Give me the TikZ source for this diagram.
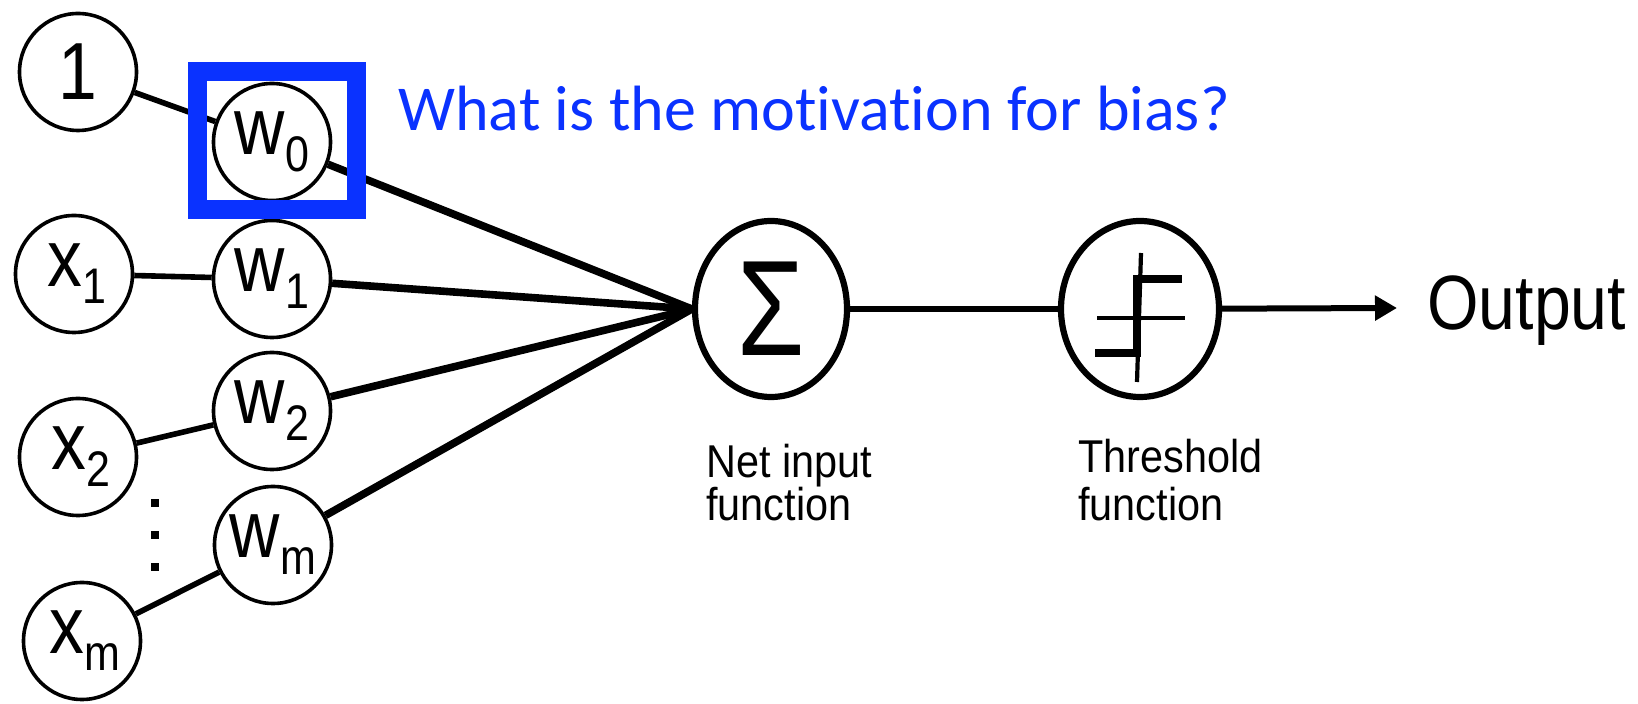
\documentclass[tikz,border=0pt]{standalone}
\usepackage{fontspec}
\setmainfont{Liberation Sans}
\newfontfamily\narrowsans[FakeStretch=0.86]{Liberation Sans}
\newfontfamily\labelsans[FakeStretch=0.9]{Liberation Sans}
\newfontfamily\sigmafont[FakeStretch=0.8]{Liberation Sans}
\newfontfamily\notefont[Ligatures=NoCommon]{Carlito}
\usetikzlibrary{shapes.geometric,arrows.meta}
\definecolor{noteblue}{RGB}{10,50,255}
% lowered subscript set in the surrounding family
\newcommand{\lowsub}[1]{\raisebox{-8.5pt}{\fontsize{25}{25}\selectfont #1}}

\begin{document}
\begin{tikzpicture}[x=0.5pt,y=-0.5pt,
  unit/.style={circle, draw, line width=1.8pt, minimum size=58.5pt, inner sep=0pt,
    font=\narrowsans\fontsize{40.5}{40.5}\selectfont},
  stage/.style={ellipse, draw, line width=3.1pt, inner sep=0pt},
  inedge/.style={line width=2.8pt},
  wedge/.style={line width=3.8pt},
  caption/.style={anchor=north west, inner sep=0pt, align=left},
  dotmark/.style={fill=black}]
\useasboundingbox (0,0) rectangle (1638,704);

% inputs and weights
\node[unit] (one) at (78,72)  {1};
\node[unit] (w0)  at (272,142) {w\lowsub{0}};
\node[unit] (x1)  at (74,274)  {\hspace{3pt}x\lowsub{1}};
\node[unit] (w1)  at (272,279) {w\lowsub{1}};
\node[unit] (x2)  at (78,457)  {\hspace{3pt}x\lowsub{2}};
\node[unit] (w2)  at (272,411) {w\lowsub{2}};
\node[unit] (xm)  at (82,641)  {\hspace{3pt}x\lowsub{m}};
\node[unit] (wm)  at (273,545) {w\lowsub{m}};

% vertical ellipsis between x2 and xm
\fill[dotmark] (151,499) rectangle (159,507);
\fill[dotmark] (151,531) rectangle (159,539);
\fill[dotmark] (151,563) rectangle (159,571);

% net input and threshold stages
\node[stage, minimum width=76pt, minimum height=88pt,
  font=\sigmafont\fontsize{68}{68}\selectfont] (sum) at (771,309) {Σ};
\node[stage, minimum width=79pt, minimum height=88pt] (thr) at (1140,309) {};
\coordinate (tip) at (1397,308);

% connectors
\draw[inedge] (one) -- (w0);
\draw[inedge] (x1) -- (w1);
\draw[inedge] (x2) -- (w2);
\draw[inedge] (xm) -- (wm);
\draw[wedge] (w0) -- (sum.west);
\draw[wedge] (w1) -- (sum.west);
\draw[wedge] (w2) -- (sum.west);
\draw[wedge] (wm) -- (sum.west);
\draw[line width=3.4pt] (sum) -- (thr);
\draw[line width=3pt, -{Triangle[length=11pt,width=12pt]}] (thr) -- (tip);

% step-function glyph inside the threshold stage
\draw[line width=2.1pt] ([shift={(1,-56)}]thr.center) -- ([shift={(-3,73)}]thr.center);
\draw[line width=2.1pt] ([shift={(-43,9)}]thr.center) -- ([shift={(45,9)}]thr.center);
\draw[line width=3.8pt] ([shift={(-45,44)}]thr.center) -- ([shift={(-3,44)}]thr.center)
  -- ([shift={(-3,-30)}]thr.center) -- ([shift={(42,-30)}]thr.center);

% captions
\node[caption, font=\labelsans\fontsize{23}{21.5}\selectfont] (netlbl) at (706,444) {Net input\\function};
\node[caption, font=\labelsans\fontsize{23}{24}\selectfont] (thrlbl) at (1078,439) {Threshold\\function};
\node[anchor=base west, inner sep=0pt, font=\narrowsans\fontsize{38.5}{38.5}\selectfont] (out) at (1427,330) {Output};

% highlighted bias weight and question
\draw[noteblue, line width=9.5pt] (197.5,72) rectangle (356,210);
\node[anchor=base west, inner sep=0pt, text=noteblue,
  font=\notefont\fontsize{32}{32}\selectfont] (question) at (398,131) {What is the motivation for bias?};
\end{tikzpicture}
\end{document}
